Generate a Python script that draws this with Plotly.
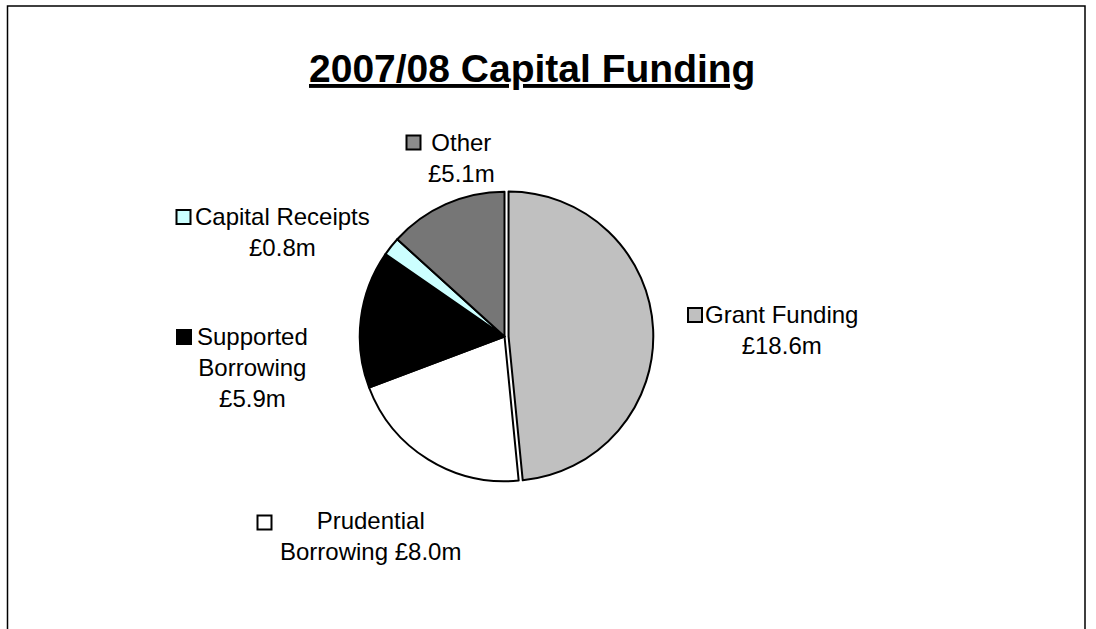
import plotly.graph_objects as go

# data
categories = ["Grant Funding", "Prudential Borrowing", "Supported Borrowing", "Capital Receipts", "Other"]
values = [18.6, 8.0, 5.9, 0.8, 5.1]
# how each label wraps in the chart (name part only)
wrapped_names = ["Grant Funding<br>", "Prudential<br>Borrowing ", "Supported<br>Borrowing<br>",
                 "Capital Receipts<br>", "Other<br>"]
colors = ["#c0c0c0", "#ffffff", "#000000", "#ccffff", "#8c8c8c"]

W, H = 1096, 629
def px(x): return x / W
def py(y): return 1 - y / H

fig = go.Figure()
fig.add_trace(go.Pie(
    labels=categories,
    values=values,
    sort=False,
    direction="clockwise",
    rotation=0,
    pull=[0.028, 0, 0, 0, 0],
    textinfo="none",
    hoverinfo="label+value",
    marker=dict(
        colors=colors,
        line=dict(color="black", width=2),
        pattern=dict(
            shape=["", "", "", "", "."],
            fgcolor="#222222",
            bgcolor="#b8b8b8",
            size=2,
            solidity=0.5,
        ),
    ),
    domain=dict(x=[px(355.7), px(653.3)], y=[py(485.3), py(187.7)]),
    showlegend=False,
))

# label blocks: centre of text block (x, y) and legend key centre
label_pos = [(781, 329.5), (370, 536), (252, 367.7), (282, 231.5), (461, 157.5)]
key_pos = [(695, 315), (264.5, 522.5), (184, 337), (183.5, 217), (413.5, 142.5)]

font = "Liberation Sans, Arial, sans-serif"
shapes = []
annotations = []
for name, v, c, (lx, ly), (kx, ky) in zip(wrapped_names, values, colors, label_pos, key_pos):
    annotations.append(dict(
        x=px(lx), y=py(ly), xref="paper", yref="paper",
        text=f"{name}£{v:.1f}m", showarrow=False, align="center",
        xanchor="center", yanchor="middle",
        font=dict(family=font, size=24, color="black"),
    ))
    s = 7
    shapes.append(dict(
        type="rect", xref="paper", yref="paper",
        x0=px(kx - s), x1=px(kx + s), y0=py(ky + s), y1=py(ky - s),
        fillcolor=c, line=dict(color="black", width=2),
    ))

# title
annotations.append(dict(
    x=px(532), y=py(68), xref="paper", yref="paper",
    text="<u><b>2007/08 Capital Funding</b></u>", showarrow=False,
    xanchor="center", yanchor="middle",
    font=dict(family=font, size=39, color="black"),
))

# chart frame
shapes.append(dict(
    type="rect", xref="paper", yref="paper",
    x0=px(7.5), x1=px(1085), y0=-0.1, y1=py(6),
    line=dict(color="black", width=1.5), fillcolor="rgba(0,0,0,0)",
))

fig.update_layout(
    width=W, height=H,
    margin=dict(l=0, r=0, t=0, b=0),
    paper_bgcolor="white",
    plot_bgcolor="white",
    shapes=shapes,
    annotations=annotations,
)

# drop the default page margin so the figure sits at the window corner
fig.write_html("out.html", config={"displayModeBar": False},
               post_script="document.body.style.margin='0';")
